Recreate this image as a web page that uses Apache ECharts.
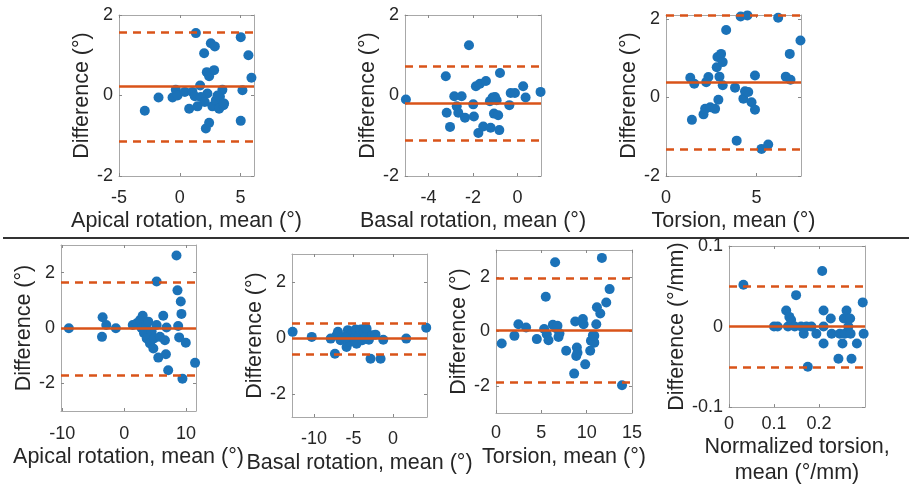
<!DOCTYPE html>
<html><head><meta charset="utf-8">
<script src="https://cdn.jsdelivr.net/npm/echarts@6/dist/echarts.min.js"></script>
<style>html,body{margin:0;padding:0;background:#fff}#c{width:909px;height:487px}</style>
</head><body><div id="c"></div>
<script>
// ---------- DATA ----------
// Top row, panel 1: Apical rotation
const apical1Mean = [-2.88,-1.75,-0.6,-0.33,-0.19,0.41,0.77,1.04,1.23,1.32,1.45,1.67,2.0,2.14,2.27,2.22,2.41,2.41,2.55,2.82,2.88,2.68,2.96,3.23,3.3,3.5,3.59,3.64,5.01,5.15,5.01,5.64,5.89,1.73,2.05,3.1];
const apical1Diff = [-0.38,-0.05,-0.05,0.14,0.0,0.09,-0.33,0.09,-0.02,1.55,-0.27,0.25,1.05,-0.82,0.05,0.58,-0.68,0.48,1.30,0.63,1.22,-0.27,-0.12,-0.33,-0.03,0.14,-0.24,-0.2,1.45,0.13,-0.63,1.0,0.44,-0.04,-0.16,0.0];
const apical1Lines = [0.23, 1.58, -1.14]; // mean, upper LoA, lower LoA
// Top row, panel 2: Basal rotation
const basal1Mean = [-5.01,-3.22,-3.18,-3.03,-2.84,-2.73,-2.66,-2.51,-2.36,-2.18,-1.99,-1.96,-1.87,-1.76,-1.69,-1.54,-1.42,-1.21,-1.24,-1.12,-1.01,-1.06,-0.87,-0.82,-0.79,-0.37,-0.31,-0.12,0.25,0.36,1.03,-0.94];
const basal1Diff = [-0.10,0.48,-0.43,-0.78,-0.02,-0.27,-0.43,-0.02,-0.55,1.25,-0.22,-0.52,0.23,-0.93,0.29,-0.77,0.36,-0.8,-0.14,-0.05,-0.04,-0.45,-0.49,-0.86,0.56,-0.24,0.06,0.06,0.23,-0.05,0.09,-0.12];
const basal1Lines = [-0.19, 0.73, -1.11];
// Top row, panel 3: Torsion
const torsion1Mean = [1.34,1.43,1.56,2.07,2.16,2.22,2.34,2.44,2.71,2.8,2.84,2.89,2.95,3.04,3.13,3.13,3.32,3.81,3.9,4.12,4.27,4.36,4.49,4.54,4.72,4.91,4.91,5.27,5.64,6.19,6.61,6.83,6.87,7.42];
const torsion1Diff = [0.5,-0.57,0.35,-0.43,-0.29,0.39,0.52,-0.25,-0.29,0.77,1.03,-0.06,0.53,1.11,0.9,0.31,1.72,0.25,-1.1,2.06,-0.03,0.16,2.09,0.14,-0.12,0.56,-0.31,-1.31,-1.2,2.03,0.53,1.11,0.45,1.45];
const torsion1Lines = [0.39, 2.09, -1.33];
// Bottom row, panel 4: Apical rotation
const apical2Mean = [-8.93,-3.58,-3.48,-2.89,-1.34,1.39,2.03,2.57,2.99,2.83,3.21,3.53,3.64,3.9,4.17,4.44,4.71,4.81,5.24,5.24,5.51,5.78,6.31,6.58,6.74,7.11,6.84,8.45,8.61,8.72,8.88,9.14,9.25,9.41,9.95,11.45];
const apical2Diff = [-0.01,-0.32,0.39,0.11,-0.01,0.11,0.17,0.29,0.44,-0.01,-0.19,0.07,-0.38,0.23,-0.56,-0.13,-0.74,-0.38,1.68,0.11,-1.07,-0.32,0.44,-0.44,-0.95,-1.53,0.02,2.62,1.36,0.07,-0.34,0.96,0.51,-1.83,-0.53,-1.26];
const apical2Lines = [-0.02, 1.66, -1.71];
// Bottom row, panel 5: Basal rotation
const basal2Mean = [-12.72,-10.3,-7.9,-7.36,-7.15,-6.98,-6.65,-6.22,-5.89,-5.72,-5.46,-5.3,-4.96,-4.75,-4.62,-4.32,-4.11,-3.9,-3.69,-3.48,-3.35,-3.06,-2.85,-2.64,-2.22,-1.58,-1.24,1.67,4.2,-3.48,-6.0];
const basal2Diff = [0.23,0.05,-0.01,-0.55,0.11,0.23,-0.07,0.05,-0.31,0.29,-0.13,0.14,-0.01,0.31,-0.19,0.11,0.31,-0.07,0.23,0.05,0.34,-0.05,-0.73,0.11,0.13,-0.73,-0.05,-0.01,0.38,0.38,0.02];
const basal2Lines = [0.0, 0.55, -0.55];
// Bottom row, panel 6: Torsion
const torsion2Mean = [0.63,2.03,2.47,3.32,4.5,5.31,5.49,5.6,5.79,6.27,6.52,6.63,6.78,6.89,7.0,7.74,8.74,8.62,8.85,8.92,8.99,9.58,9.66,9.84,10.39,10.47,10.69,10.84,11.06,11.13,11.5,11.68,12.16,12.53,13.9,10.84];
const torsion2Diff = [-0.44,-0.16,0.27,0.15,-0.28,0.09,1.28,-0.1,-0.32,0.25,2.55,0.12,0.21,-0.2,-0.07,-0.71,0.37,-1.55,-0.9,-0.59,-0.78,0.46,0.27,-1.21,-0.71,-0.34,-0.14,-0.41,0.27,0.89,0.66,2.71,1.07,1.56,-1.98,-0.16];
const torsion2Lines = [0.05, 1.96, -1.86];
// Bottom row, panel 7: Normalized torsion
const normMean = [0.032,0.1,0.108,0.127,0.131,0.134,0.138,0.149,0.146,0.16,0.166,0.172,0.175,0.183,0.194,0.207,0.21,0.21,0.21,0.226,0.228,0.243,0.246,0.252,0.255,0.257,0.261,0.265,0.269,0.27,0.272,0.284,0.297,0.299];
const normDiff = [0.052,0.0,0.0,0.02,0.0,0.012,0.008,0.039,0.0,0.0,-0.009,0.0,-0.05,0.0,-0.009,0.069,0.02,0.0,-0.021,0.01,-0.009,-0.04,-0.009,-0.021,0.01,-0.009,0.02,0.0,0.01,-0.009,-0.04,-0.021,0.03,-0.009];
const normLines = [0.0, 0.048, -0.048];

// Axis limits and tick labels
const xLim = [[-5,6.1],[-5.05,1.05],[0,7.45],[-10.2,11.6],[-12.8,4.3],[0,15],[0,0.302]];
const yLim = [[-2,2],[-2,2],[-2,2.1],[-3,3],[-2.8,3],[-3,3],[-0.1,0.1]];
const xTicks = [[-5,0,5],[-4,-2,0],[0,5],[-10,0,10],[-10,-5,0],[0,5,10,15],[0,0.1,0.2]];
const yTicks = [[-2,0,2],[-2,0,2],[-2,0,2],[-2,0,2],[-2,0,2],[-2,0,2],[-0.1,0,0.1]];
const xNames = ['Apical rotation, mean (°)','Basal rotation, mean (°)','Torsion, mean (°)','Apical rotation, mean (°)','Basal rotation, mean (°)','Torsion, mean (°)','Normalized torsion,\nmean (°/mm)'];
const yNames = ['Difference (°)','Difference (°)','Difference (°)','Difference (°)','Difference (°)','Difference (°)','Difference (°/mm)'];

const panelsX = [apical1Mean,basal1Mean,torsion1Mean,apical2Mean,basal2Mean,torsion2Mean,normMean];
const panelsY = [apical1Diff,basal1Diff,torsion1Diff,apical2Diff,basal2Diff,torsion2Diff,normDiff];
const panelsL = [apical1Lines,basal1Lines,torsion1Lines,apical2Lines,basal2Lines,torsion2Lines,normLines];

// ---------- LAYOUT ----------
const grids = [
  {left:119, top:15, width:135, height:161},
  {left:405, top:15, width:136, height:161},
  {left:666, top:15, width:135, height:161},
  {left:61,  top:245, width:135, height:166},
  {left:292, top:254, width:135, height:163},
  {left:496, top:250, width:136, height:163},
  {left:729, top:246, width:136, height:166}
];
const xNameGap = [24,24,24,33,33,31,26];
const xLabMargin = [13,13,13,14,13,11,8];
const yNameGap = [25,22,22,23,23,22,35];

const FONT = 'Liberation Sans';
const TXT = '#262626';
const BLUE = '#1b72b8';
const ORANGE = '#D95319';
const BOX = '#a8a8a8';

const mainX = grids.map((g,i) => ({
  type:'value', gridIndex:i, position:'bottom', min:xLim[i][0], max:xLim[i][1],
  name:xNames[i], nameLocation:'middle', nameGap:xNameGap[i],
  nameTextStyle:{fontFamily:FONT, fontSize:21.5, color:TXT, lineHeight:26},
  axisLine:{show:true, onZero:false, lineStyle:{color:BOX, width:1}},
  splitLine:{show:false},
  axisTick:{show:true, inside:true, length:3, lineStyle:{color:'#888'}, customValues:xTicks[i]},
  axisLabel:{fontFamily:FONT, fontSize:18, color:TXT, margin:xLabMargin[i], customValues:xTicks[i]}
}));
const mirrorX = grids.map((g,i) => ({
  type:'value', gridIndex:i, position:'top', min:xLim[i][0], max:xLim[i][1],
  axisLine:{show:true, onZero:false, lineStyle:{color:BOX, width:1}},
  splitLine:{show:false},
  axisTick:{show:true, inside:true, length:3, lineStyle:{color:'#888'}, customValues:xTicks[i]},
  axisLabel:{show:false}
}));
const mainY = grids.map((g,i) => ({
  type:'value', gridIndex:i, position:'left', min:yLim[i][0], max:yLim[i][1],
  name:yNames[i], nameLocation:'middle', nameGap:yNameGap[i], nameRotate:90,
  nameTextStyle:{fontFamily:FONT, fontSize:21.5, color:TXT},
  axisLine:{show:true, onZero:false, lineStyle:{color:BOX, width:1}},
  splitLine:{show:false},
  axisTick:{show:true, inside:true, length:3, lineStyle:{color:'#888'}, customValues:yTicks[i]},
  axisLabel:{fontFamily:FONT, fontSize:18, color:TXT, margin:6, padding:[5,0,0,0], customValues:yTicks[i]}
}));
const mirrorY = grids.map((g,i) => ({
  type:'value', gridIndex:i, position:'right', min:yLim[i][0], max:yLim[i][1],
  axisLine:{show:true, onZero:false, lineStyle:{color:BOX, width:1}},
  splitLine:{show:false},
  axisTick:{show:true, inside:true, length:3, lineStyle:{color:'#888'}, customValues:yTicks[i]},
  axisLabel:{show:false}
}));

const option = {
  animation:false,
  backgroundColor:'#fff',
  graphic:[{type:'line', shape:{x1:3,y1:238,x2:909,y2:238}, style:{stroke:'#333', lineWidth:2}}],
  grid: grids.map(g => Object.assign({show:false, containLabel:false}, g)),
  xAxis: mainX.concat(mirrorX),
  yAxis: mainY.concat(mirrorY),
  series: grids.map((g,i) => ({
    type:'scatter', xAxisIndex:i, yAxisIndex:i,
    symbol:'circle', symbolSize:10,
    itemStyle:{color:BLUE, opacity:1},
    data: panelsX[i].map((x,k) => [x, panelsY[i][k]]),
    markLine:{
      silent:true, symbol:['none','none'], label:{show:false},
      lineStyle:{color:ORANGE, width:2.5},
      data:[
        {yAxis:panelsL[i][0], lineStyle:{type:'solid', color:ORANGE, width:2.5}},
        {yAxis:panelsL[i][1], lineStyle:{type:[8,6], color:ORANGE, width:2.5}},
        {yAxis:panelsL[i][2], lineStyle:{type:[8,6], color:ORANGE, width:2.5}}
      ]
    }
  }))
};
const chart = echarts.init(document.getElementById('c'), null, {renderer:'canvas'});
chart.setOption(option);
</script>
</body></html>
